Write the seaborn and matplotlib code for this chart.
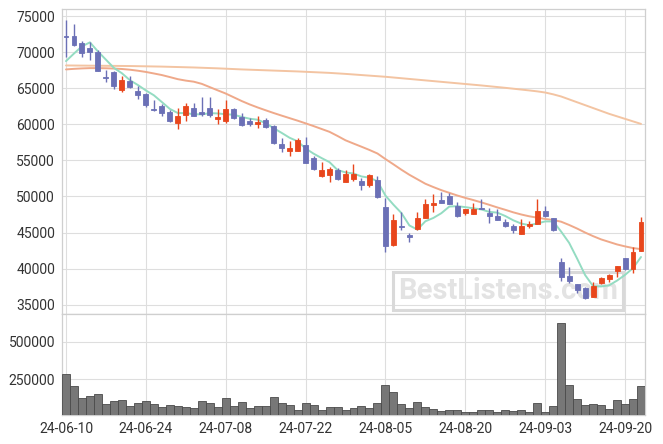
import numpy as np
import pandas as pd
import matplotlib
matplotlib.use("Agg")
import matplotlib.pyplot as plt
import seaborn as sns

# ---------------- data ----------------
tick_labels = ["24-06-10", "24-06-24", "24-07-08", "24-07-22",
               "24-08-05", "24-08-20", "24-09-03", "24-09-20"]

opens = [72200, 72200, 71200, 70550, 70000, 66550, 67200, 64800, 66000, 64600,
         64150, 62150, 62600, 61750, 60200, 61300, 62300, 61750, 62300, 60750,
         60450, 62050, 60950, 60450, 60000, 60550, 59700, 57200, 56300, 56300,
         57100, 55350, 52800, 52950, 53600, 52050, 52400, 52200, 51650, 52300,
         48600, 43250, 45950, 44700, 45550, 46950, 48800, 49550, 50050, 48700,
         47700, 47600, 48450, 47650, 47350, 46500, 45950, 44800, 45900, 46150,
         48000, 46950, 40850, 39000, 37800, 37300, 36100, 37950, 38600, 39700,
         41500, 39900, 42400]
highs = [74400, 73900, 71600, 71400, 70300, 67500, 67400, 66700, 66750, 65350,
         64300, 63400, 62800, 61950, 62200, 62950, 62950, 63800, 63800, 62050,
         63350, 62300, 61500, 60850, 61200, 60850, 59900, 58050, 57700, 58150,
         58300, 55650, 54800, 54050, 53900, 53600, 54550, 52600, 53150, 52800,
         49800, 47600, 47800, 45000, 47850, 49700, 50300, 50550, 50500, 49200,
         48300, 49050, 49600, 48450, 48250, 46900, 46150, 46900, 46550, 49600,
         48700, 46950, 41500, 40200, 37800, 37400, 38150, 38900, 39250, 40400,
         41500, 42950, 47150]
lows = [69300, 70900, 69350, 68900, 67400, 65900, 64900, 64450, 65000, 63500,
        62400, 61900, 61200, 60350, 59350, 60400, 61100, 61100, 60950, 60100,
        60200, 60750, 59700, 59700, 59550, 59450, 57300, 56200, 55550, 56250,
        54600, 53600, 52750, 51950, 52300, 51950, 52200, 50900, 51300, 49800,
        42300, 43200, 45300, 43700, 45350, 46950, 47900, 49050, 48900, 47200,
        47450, 47600, 48200, 46350, 46800, 45700, 44950, 44750, 45600, 46150,
        47200, 45200, 38250, 38050, 36650, 35750, 36100, 37850, 38150, 38800,
        39850, 39450, 42400]
closes = [72150, 71000, 69900, 70000, 67400, 66450, 65300, 66200, 65200, 64050,
          62700, 61950, 61500, 60450, 61200, 62600, 61200, 61400, 61300, 61000,
          62050, 60850, 59900, 60050, 60300, 59650, 57400, 56650, 56650, 57850,
          54700, 53800, 53600, 53800, 52400, 53050, 53050, 51550, 52950, 49900,
          43150, 46750, 45750, 44350, 47050, 48900, 49050, 49050, 48950, 47300,
          48250, 48250, 48250, 47250, 46800, 45900, 45300, 45950, 46150, 47950,
          47350, 45300, 38900, 38350, 37050, 35950, 37600, 38700, 39100, 40350,
          39900, 42300, 46400]
volumes = [285400, 205750, 126100, 139400, 152650, 86300, 106200, 112800, 73000, 92900,
           106200, 86300, 66400, 79600, 73000, 66400, 59700, 106200, 92900, 66400,
           126100, 73000, 99600, 59700, 73000, 73000, 132700, 92900, 79600, 46500,
           92900, 79600, 46500, 66400, 66400, 46500, 59700, 73000, 59700, 92900,
           210200, 165900, 86300, 59700, 99600, 66400, 53100, 39800, 46500, 46500,
           33200, 33200, 46500, 46500, 33200, 46500, 39800, 46500, 33200, 92900,
           33200, 73000, 621700, 210200, 119500, 79600, 86300, 79600, 53100, 112800,
           86300, 119500, 205750]
ma5 = [68750, 69800, 70800, 71350, 70090, 68950, 67810, 67070, 66110, 65440,
       64690, 64020, 63080, 62130, 61560, 61540, 61390, 61370, 61540, 61500,
       61390, 61320, 61020, 60770, 60630, 60150, 59460, 58810, 58130, 57640,
       56650, 55930, 55320, 54750, 53660, 53330, 53180, 52770, 52600, 52100,
       50120, 48860, 47700, 45980, 45410, 46560, 47020, 47680, 48600, 48650,
       48520, 48360, 48200, 47860, 47760, 47290, 46700, 46240, 46020, 46250,
       46540, 46540, 45130, 43570, 41390, 39110, 37570, 37530, 37680, 38340,
       39130, 40070, 41610]
ma20 = [67600, 67680, 67740, 67780, 67780, 67760, 67720, 67660, 67560, 67420,
        67250, 67040, 66820, 66540, 66250, 66050, 65900, 65600, 65150, 64700,
        64260, 63740, 63220, 62750, 62330, 61940, 61560, 61200, 60850, 60500,
        60130, 59750, 59350, 58950, 58380, 57780, 57330, 56890, 56440, 55950,
        55180, 54450, 53700, 53000, 52380, 51760, 51300, 50870, 50500, 50130,
        49800, 49500, 49180, 48840, 48480, 48150, 47800, 47500, 47250, 47060,
        46880, 46740, 46500, 46050, 45550, 45000, 44500, 44050, 43700, 43350,
        43080, 42850, 42700]
ma_long = [68150, 68140, 68130, 68120, 68110, 68100, 68090, 68080, 68070, 68050,
           68030, 68010, 67990, 67960, 67930, 67900, 67870, 67830, 67790, 67750,
           67700, 67650, 67600, 67560, 67520, 67480, 67440, 67400, 67360, 67320,
           67270, 67220, 67170, 67120, 67050, 66980, 66900, 66820, 66740, 66660,
           66580, 66480, 66380, 66280, 66180, 66080, 65980, 65880, 65780, 65680,
           65580, 65480, 65380, 65270, 65160, 65050, 64930, 64810, 64690, 64560,
           64400, 64150, 63850, 63450, 63050, 62650, 62250, 61850, 61450, 61100,
           60750, 60400, 60050]

# ---------------- styling ----------------
sns.set_theme(style="white")
plt.rcParams["font.family"] = ["Roboto", "DejaVu Sans"]

UP = "#e8461c"
DOWN = "#6b70b6"
GRID = "#dedede"
TXT = "#333333"

n = len(closes)
idx = np.arange(n)
df = pd.DataFrame({"idx": idx, "open": opens, "high": highs, "low": lows,
                   "close": closes, "volume": volumes})
df["up"] = df["close"] >= df["open"]

fig = plt.figure(figsize=(6.63, 4.44), dpi=100)
L, R = 62 / 663, 645 / 663
ax = fig.add_axes([L, 1 - 314.3 / 444, R - L, (314.3 - 9.3) / 444])
axv = fig.add_axes([L, 1 - 415 / 444, R - L, (415 - 314.3) / 444], sharex=ax)

# moving averages via seaborn
ma_df = pd.concat([
    pd.DataFrame({"idx": idx, "value": ma_long, "line": "long"}),
    pd.DataFrame({"idx": idx, "value": ma20, "line": "ma20"}),
    pd.DataFrame({"idx": idx, "value": ma5, "line": "ma5"}),
])
sns.lineplot(data=ma_df, x="idx", y="value", hue="line",
             palette={"long": "#f3c4a2", "ma20": "#efa98a", "ma5": "#94dcc2"},
             linewidth=1.4, legend=False, ax=ax, zorder=2)

# candles
colors = np.where(df["up"], UP, DOWN)
ax.vlines(idx, df["low"], df["high"], colors=colors, linewidth=1.0, zorder=3)
body_bottom = np.minimum(df["open"], df["close"])
body_h = np.abs(df["close"] - df["open"])
ax.bar(idx, body_h, bottom=body_bottom, width=0.62, color=colors,
       edgecolor=colors, linewidth=0.6, zorder=4)

# watermark
ax.text(0.765, 0.076, "BestListens.com", transform=ax.transAxes,
        ha="center", va="center", fontsize=21, fontweight="bold",
        color="#e3e3e3", zorder=1.5,
        bbox=dict(boxstyle="square,pad=0.18", facecolor="none",
                  edgecolor="#d9d9d9", linewidth=2.2))

# volume via seaborn
sns.barplot(data=df, x="idx", y="volume", color="#777777", width=1.0,
            edgecolor="#4a4a4a", linewidth=0.6, saturation=1, ax=axv, zorder=3)

# axes limits & ticks
for a in (ax, axv):
    a.set_xlim(-0.5, n - 0.5)
    a.set_xlabel("")
    a.set_ylabel("")
    a.grid(True, color=GRID, linewidth=0.8)
    a.set_axisbelow(True)
    for s in a.spines.values():
        s.set_color("#cfcfcf")
        s.set_linewidth(0.9)
    a.tick_params(axis="both", length=0, colors=TXT, labelsize=10, pad=5)

ax.set_ylim(33670, 75930)
ax.set_yticks(np.arange(35000, 75001, 5000))
ax.set_yticklabels([str(v) for v in range(35000, 75001, 5000)])
plt.setp(ax.get_xticklabels(), visible=False)

axv.set_ylim(12600, 682000)
axv.set_yticks([250000, 500000])
axv.set_yticklabels(["250000", "500000"])
axv.set_xticks(np.arange(0, n, 10))
axv.set_xticklabels(tick_labels)
ax.set_xticks(np.arange(0, n, 10))

fig.savefig("out.png", dpi=100)
